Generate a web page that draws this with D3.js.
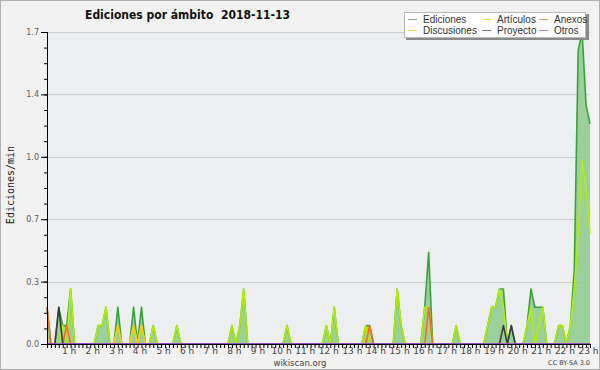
<!DOCTYPE html>
<html>
<head>
<meta charset="utf-8">
<script src="https://cdn.jsdelivr.net/npm/d3@7"></script>
<style>
  body { margin: 0; background: #fff; }
  svg { display: block; font-family: "Liberation Sans", Arial, sans-serif; }
</style>
</head>
<body>
<svg width="600" height="370"></svg>
<script>
// 10-minute slots from 00:00 to 23:00 (139 slots), values in edits/min
let ediciones = [
  0.2,0,0,0.2,0.1,0.1, 0.3,0,0,0,0,0,
  0,0.1,0.1,0.2,0,0, 0.2,0,0,0,0.2,0,
  0.2,0,0,0.1,0,0, 0,0,0,0.1,0,0,
  0,0,0,0,0,0, 0,0,0,0,0,0.1,
  0,0.1,0.3,0,0,0, 0,0,0,0,0,0,
  0,0.1,0,0,0,0, 0,0,0,0,0,0.1,
  0,0.2,0,0,0,0, 0,0,0,0.1,0.1,0,
  0,0,0,0,0,0.3, 0.1,0,0,0,0,0,
  0.2,0.5,0,0,0,0, 0,0,0.1,0,0,0,
  0,0,0,0,0.1,0.2, 0.2,0.3,0.3,0,0.1,0,
  0,0,0.1,0.3,0.2,0.2, 0.2,0,0,0,0.1,0.1,
  0,0.1,0.4,1.6,1.7,1.3, 1.2
];
let articulos = [
  0,0,0,0,0.1,0, 0.3,0,0,0,0,0,
  0,0.1,0.1,0.2,0,0, 0.1,0,0,0,0.1,0,
  0.1,0,0,0.1,0,0, 0,0,0,0.1,0,0,
  0,0,0,0,0,0, 0,0,0,0,0,0.1,
  0,0.1,0.3,0,0,0, 0,0,0,0,0,0,
  0,0.1,0,0,0,0, 0,0,0,0,0,0.1,
  0,0.2,0,0,0,0, 0,0,0,0.1,0,0,
  0,0,0,0,0,0.3, 0.1,0,0,0,0,0,
  0.2,0.2,0,0,0,0, 0,0,0.1,0,0,0,
  0,0,0,0,0.1,0.2, 0.2,0.3,0.2,0,0,0,
  0,0,0.1,0.2,0,0.1, 0.2,0,0,0,0.1,0.1,
  0,0.1,0.3,0.6,1.0,0.85, 0.6
];
let anexos = [
  0.2,0,0,0,0,0.1, 0,0,0,0,0,0,
  0,0,0,0,0,0, 0,0,0,0,0,0,
  0,0,0,0,0,0, 0,0,0,0,0,0,
  0,0,0,0,0,0, 0,0,0,0,0,0,
  0,0,0,0,0,0, 0,0,0,0,0,0,
  0,0,0,0,0,0, 0,0,0,0,0,0,
  0,0,0,0,0,0, 0,0,0,0,0.1,0,
  0,0,0,0,0,0, 0,0,0,0,0,0,
  0,0.2,0,0,0,0, 0,0,0,0,0,0,
  0,0,0,0,0,0, 0,0,0,0,0,0,
  0,0,0,0,0,0, 0,0,0,0,0,0,
  0,0,0,0,0,0, 0
];
let discusiones = [
  0,0,0,0,0,0, 0,0,0,0,0,0,
  0,0,0,0,0,0, 0.1,0,0,0,0.1,0,
  0.1,0,0,0,0,0, 0,0,0,0,0,0,
  0,0,0,0,0,0, 0,0,0,0,0,0,
  0,0,0,0,0,0, 0,0,0,0,0,0,
  0,0,0,0,0,0, 0,0,0,0,0,0,
  0,0,0,0,0,0, 0,0,0,0,0,0,
  0,0,0,0,0,0, 0,0,0,0,0,0,
  0,0,0,0,0,0, 0,0,0,0,0,0,
  0,0,0,0,0,0, 0,0,0,0,0,0,
  0,0,0,0,0,0, 0,0,0,0,0,0,
  0,0,0,0,0,0, 0
];
let proyecto = [
  0,0,0,0.2,0,0, 0,0,0,0,0,0,
  0,0,0,0,0,0, 0,0,0,0,0,0,
  0,0,0,0,0,0, 0,0,0,0,0,0,
  0,0,0,0,0,0, 0,0,0,0,0,0,
  0,0,0,0,0,0, 0,0,0,0,0,0,
  0,0,0,0,0,0, 0,0,0,0,0,0,
  0,0,0,0,0,0, 0,0,0,0,0,0,
  0,0,0,0,0,0, 0,0,0,0,0,0,
  0,0,0,0,0,0, 0,0,0,0,0,0,
  0,0,0,0,0,0, 0,0,0.1,0,0.1,0,
  0,0,0,0,0,0, 0,0,0,0,0,0,
  0,0,0,0,0,0, 0
];
let otros = [
  0,0,0,0,0,0, 0,0,0,0,0,0,
  0,0,0,0,0,0, 0,0,0,0,0,0,
  0,0,0,0,0,0, 0,0,0,0,0,0,
  0,0,0,0,0,0, 0,0,0,0,0,0,
  0,0,0,0,0,0, 0,0,0,0,0,0,
  0,0,0,0,0,0, 0,0,0,0,0,0,
  0,0,0,0,0,0, 0,0,0,0,0,0,
  0,0,0,0,0,0, 0,0,0,0,0,0,
  0,0,0,0,0,0, 0,0,0,0,0,0,
  0,0,0,0,0,0, 0,0,0,0,0,0,
  0,0,0,0,0,0, 0,0,0,0,0,0,
  0,0,0,0,0,0, 0
];

let hourSlots = [6, 12, 18, 24, 30, 36, 42, 48, 54, 60, 66, 72, 78, 84, 90, 96, 102, 108, 114, 120, 126, 132, 138];
let hourLabels = ["1 h","2 h","3 h","4 h","5 h","6 h","7 h","8 h","9 h","10 h","11 h","12 h",
                  "13 h","14 h","15 h","16 h","17 h","18 h","19 h","20 h","21 h","22 h","23 h"];
let yTicks = [0, 0.34, 0.68, 1.02, 1.36, 1.7];
let yTickLabels = ["0.0", "0.3", "0.7", "1.0", "1.4", "1.7"];

let series = [
  { name: "Ediciones",   values: ediciones,   color: "#3aa23a" },
  { name: "Artículos",   values: articulos,   color: "#b4ee00" },
  { name: "Anexos",      values: anexos,      color: "#ff6a1a" },
  { name: "Discusiones", values: discusiones, color: "#f2cc1a" },
  { name: "Proyecto",    values: proyecto,    color: "#3c3c3c" },
  { name: "Otros",       values: otros,       color: "#9a4cf0" }
];

let svg = d3.select("svg");

let x = d3.scaleLinear().domain([0, ediciones.length - 1]).range([47, 590]);
let y = d3.scaleLinear().domain([0, 1.7]).range([344, 32]);

// page background + frame
svg.append("rect").attr("width", 600).attr("height", 370).attr("fill", "#f1f1f1");
svg.append("rect").attr("x", 0.5).attr("y", 0.5).attr("width", 599).attr("height", 369)
    .attr("fill", "none").attr("stroke", "#b0b0b0");

// plot area
svg.append("rect").attr("x", 47).attr("y", 32).attr("width", 543).attr("height", 312)
    .attr("fill", "#edeef0");

// grid
svg.append("g").selectAll("line").data(yTicks.slice(1)).enter().append("line")
    .attr("x1", 47).attr("x2", 590)
    .attr("y1", (d) => Math.round(y(d)) + 0.5).attr("y2", (d) => Math.round(y(d)) + 0.5)
    .attr("stroke", "#cfcfcf");

// Ediciones area
let area = d3.area().x((d, i) => x(i)).y0(y(0)).y1((d) => y(d));
svg.append("path").datum(ediciones)
    .attr("d", area)
    .attr("fill", "#8cc98c").attr("fill-opacity", 0.85);

let line = d3.line().x((d, i) => x(i)).y((d) => y(d));
series.forEach((s) => {
  svg.append("path").datum(s.values)
      .attr("d", line)
      .attr("fill", "none")
      .attr("stroke", s.color)
      .attr("stroke-width", 1.6)
      .attr("stroke-linejoin", "round");
});

// y axis
let yMinor = d3.range(21).map((k) => k * 0.085);
svg.append("g").attr("transform", "translate(47,0)")
    .call(d3.axisLeft(y).tickValues(yMinor).tickSize(3).tickFormat(""))
    .call((g) => g.select(".domain").remove());
let yAxis = svg.append("g").attr("transform", "translate(47,0)")
    .call(d3.axisLeft(y).tickValues(yTicks).tickSize(6).tickPadding(2)
      .tickFormat((d, i) => yTickLabels[i]));
yAxis.select(".domain").attr("d", "M0.5,32V344.5");
yAxis.selectAll("text").attr("font-size", 8).attr("fill", "#606060")
    .attr("font-family", "DejaVu Sans");

// x axis
let xAxis = svg.append("g").attr("transform", "translate(0,344)")
    .call(d3.axisBottom(x).tickValues(d3.range(ediciones.length)).tickSize(4).tickFormat(""));
xAxis.select(".domain").attr("d", "M47,0.5H590");
svg.append("g").attr("transform", "translate(0,344)")
    .call(d3.axisBottom(x).tickValues(hourSlots).tickSize(0).tickPadding(4)
      .tickFormat((d, i) => hourLabels[i]))
    .call((g) => g.select(".domain").remove())
    .selectAll("text")
      .attr("dx", -2)
      .attr("font-size", 9).attr("fill", "#444").attr("font-family", "DejaVu Sans");

// axis title
svg.append("text")
    .attr("transform", "translate(14,185) rotate(-90)")
    .attr("text-anchor", "middle")
    .attr("font-family", "DejaVu Sans Mono").attr("font-size", 10).attr("fill", "#222")
    .text("Ediciones/min");

// title
svg.append("text").attr("x", 85).attr("y", 19)
    .attr("font-weight", "bold").attr("font-size", 13).attr("fill", "#111")
    .attr("font-family", "DejaVu Sans")
    .attr("textLength", 205).attr("lengthAdjust", "spacingAndGlyphs")
    .style("white-space", "pre")
    .text("Ediciones por ámbito  2018-11-13");

// footer
svg.append("text").attr("x", 300).attr("y", 366).attr("text-anchor", "middle")
    .attr("font-family", "DejaVu Sans").attr("font-size", 8.5).attr("fill", "#444")
    .text("wikiscan.org");
svg.append("text").attr("x", 590).attr("y", 365).attr("text-anchor", "end")
    .attr("font-family", "DejaVu Sans").attr("font-size", 6.5).attr("fill", "#444")
    .text("CC BY-SA 3.0");

// legend
let legendOrder = [0, 1, 2, 3, 4, 5];
let lg = svg.append("g");
lg.append("rect").attr("x", 406).attr("y", 14).attr("width", 183).attr("height", 26).attr("fill", "#8a8a8a");
lg.append("rect").attr("x", 404.5).attr("y", 12.5).attr("width", 181).attr("height", 25)
    .attr("fill", "#fff").attr("stroke", "#b8b8b8");
let colX = [408, 482, 539];
let rowY = [19, 30];
let item = lg.selectAll("g.item").data(legendOrder.map((k) => series[k])).enter().append("g")
    .attr("transform", (d, i) => `translate(${colX[i % 3]},${rowY[Math.floor(i / 3)]})`);
item.append("line").attr("x1", 0).attr("x2", 9).attr("y1", 0.5).attr("y2", 0.5)
    .attr("stroke", (d) => d.color).attr("stroke-opacity", 0.7);
item.append("text").attr("x", 15).attr("y", 3.5)
    .attr("font-family", "Liberation Sans").attr("font-size", 10).attr("fill", "#333")
    .text((d) => d.name);
</script>
</body>
</html>
